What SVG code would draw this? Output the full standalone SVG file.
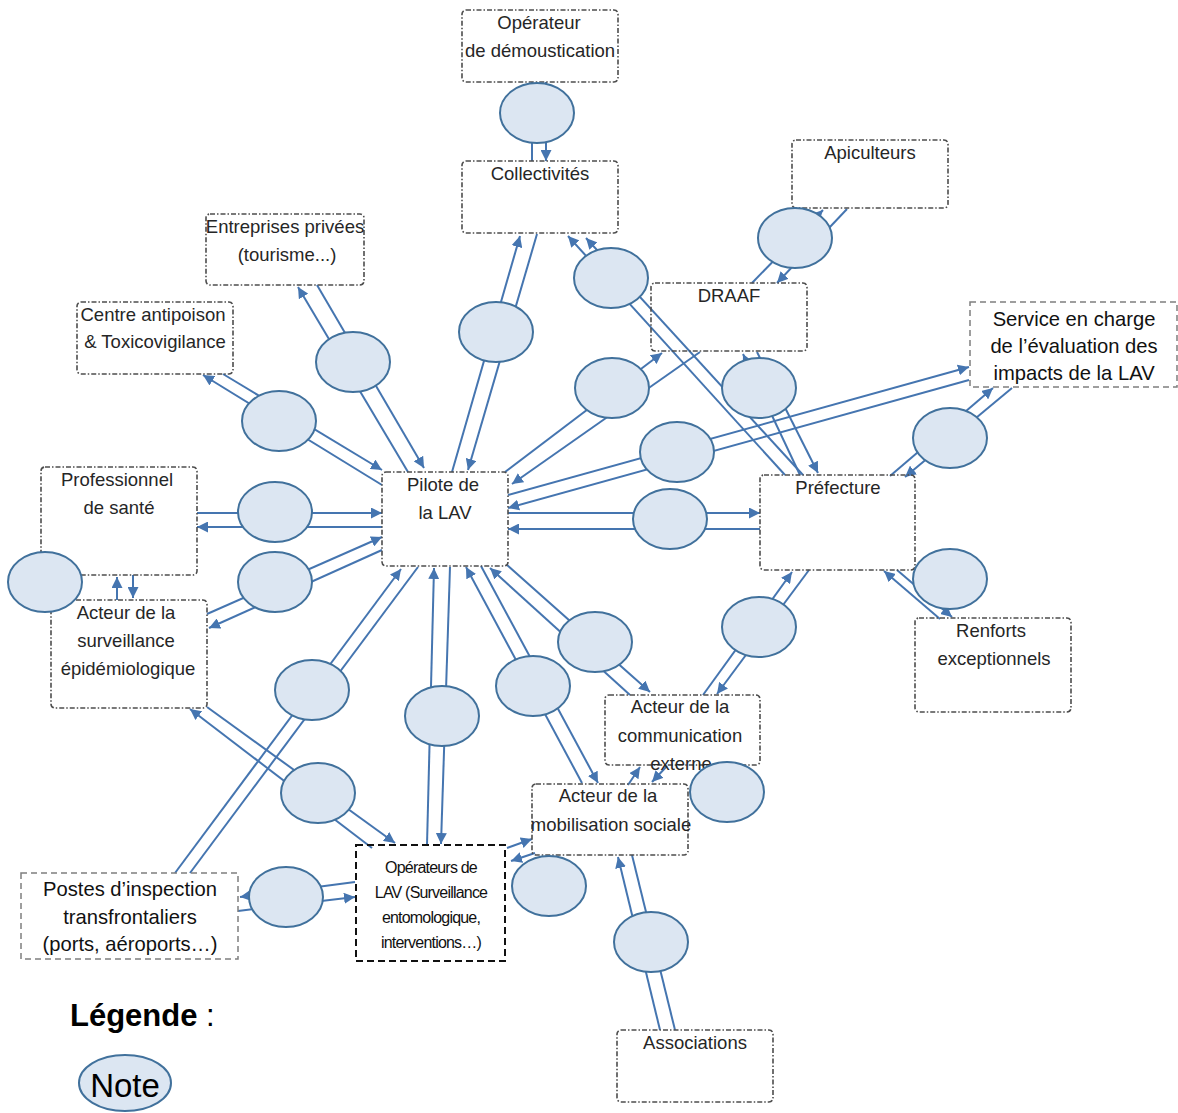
<svg xmlns="http://www.w3.org/2000/svg" width="1178" height="1113" viewBox="0 0 1178 1113">
<style>
.box{fill:none;stroke:#4d4d4d;stroke-width:1.6;stroke-dasharray:5 2 1.5 2}
.dash{fill:none;stroke:#7f7f7f;stroke-width:1.5;stroke-dasharray:6 4}
.bdash{fill:none;stroke:#111;stroke-width:2;stroke-dasharray:7 4}
.t{font-family:"Liberation Sans",Arial,sans-serif;font-size:18.5px;fill:#262626;text-anchor:middle}
.c{font-family:"Liberation Sans",Arial,sans-serif;font-size:20.2px;fill:#111;text-anchor:middle}
.n{font-family:"Liberation Sans",Arial,sans-serif;font-size:16px;letter-spacing:-0.8px;fill:#111;text-anchor:middle}
.note{fill:#dce6f2;stroke:#41719c;stroke-width:2}
#connectors line{stroke:#4575b0;stroke-width:2}
</style>
<defs>
<marker id="ah" markerUnits="userSpaceOnUse" markerWidth="11" markerHeight="11" refX="10" refY="5" orient="auto" viewBox="0 0 10 10">
<path d="M0,0 L10,5 L0,10 z" fill="#4575b0"/>
</marker>
</defs>
<rect width="1178" height="1113" fill="#fff"/>

<g id="connectors">
<line x1="532" y1="82" x2="532" y2="161"/>
<line x1="546" y1="82" x2="546" y2="161" marker-end="url(#ah)"/>
<line x1="452" y1="472" x2="520" y2="236" marker-end="url(#ah)"/>
<line x1="537" y1="234" x2="468" y2="470" marker-end="url(#ah)"/>
<line x1="408" y1="472" x2="298" y2="287" marker-end="url(#ah)"/>
<line x1="317" y1="285" x2="424" y2="468" marker-end="url(#ah)"/>
<line x1="382" y1="485" x2="203" y2="375" marker-end="url(#ah)"/>
<line x1="223" y1="374" x2="382" y2="470" marker-end="url(#ah)"/>
<line x1="197" y1="513" x2="382" y2="513" marker-end="url(#ah)"/>
<line x1="382" y1="527" x2="197" y2="527" marker-end="url(#ah)"/>
<line x1="207" y1="614" x2="382" y2="537" marker-end="url(#ah)"/>
<line x1="382" y1="550" x2="209" y2="628" marker-end="url(#ah)"/>
<line x1="508" y1="513" x2="760" y2="513" marker-end="url(#ah)"/>
<line x1="760" y1="529" x2="508" y2="529" marker-end="url(#ah)"/>
<line x1="508" y1="495" x2="969" y2="367" marker-end="url(#ah)"/>
<line x1="969" y1="380" x2="508" y2="508" marker-end="url(#ah)"/>
<line x1="505" y1="472" x2="662" y2="353" marker-end="url(#ah)"/>
<line x1="700" y1="352" x2="512" y2="484" marker-end="url(#ah)"/>
<line x1="800" y1="475" x2="743" y2="354" marker-end="url(#ah)"/>
<line x1="757" y1="352" x2="818" y2="473" marker-end="url(#ah)"/>
<line x1="785" y1="475" x2="568" y2="236" marker-end="url(#ah)"/>
<line x1="803" y1="475" x2="586" y2="238" marker-end="url(#ah)"/>
<line x1="752" y1="283" x2="823" y2="210" marker-end="url(#ah)"/>
<line x1="847" y1="209" x2="777" y2="283" marker-end="url(#ah)"/>
<line x1="890" y1="476" x2="993" y2="388" marker-end="url(#ah)"/>
<line x1="1012" y1="388" x2="905" y2="477" marker-end="url(#ah)"/>
<line x1="940" y1="619" x2="884" y2="571" marker-end="url(#ah)"/>
<line x1="897" y1="570" x2="952" y2="617" marker-end="url(#ah)"/>
<line x1="703" y1="695" x2="792" y2="572" marker-end="url(#ah)"/>
<line x1="809" y1="570" x2="717" y2="694" marker-end="url(#ah)"/>
<line x1="630" y1="695" x2="490" y2="568" marker-end="url(#ah)"/>
<line x1="507" y1="565" x2="650" y2="692" marker-end="url(#ah)"/>
<line x1="582" y1="783" x2="466" y2="567" marker-end="url(#ah)"/>
<line x1="481" y1="566" x2="598" y2="783" marker-end="url(#ah)"/>
<line x1="427" y1="845" x2="434" y2="568" marker-end="url(#ah)"/>
<line x1="450" y1="567" x2="441" y2="844" marker-end="url(#ah)"/>
<line x1="175" y1="873" x2="401" y2="569" marker-end="url(#ah)"/>
<line x1="418" y1="567" x2="190" y2="873"/>
<line x1="372" y1="848" x2="190" y2="709" marker-end="url(#ah)"/>
<line x1="207" y1="707" x2="395" y2="843" marker-end="url(#ah)"/>
<line x1="238" y1="911" x2="355" y2="897" marker-end="url(#ah)"/>
<line x1="355" y1="882" x2="240" y2="897" marker-end="url(#ah)"/>
<line x1="507" y1="848" x2="532" y2="839" marker-end="url(#ah)"/>
<line x1="535" y1="853" x2="511" y2="861" marker-end="url(#ah)"/>
<line x1="628" y1="785" x2="640" y2="767" marker-end="url(#ah)"/>
<line x1="667" y1="766" x2="652" y2="782" marker-end="url(#ah)"/>
<line x1="660" y1="1030" x2="618" y2="857" marker-end="url(#ah)"/>
<line x1="632" y1="855" x2="675" y2="1030"/>
<line x1="117" y1="600" x2="117" y2="577" marker-end="url(#ah)"/>
<line x1="133" y1="575" x2="133" y2="598" marker-end="url(#ah)"/>
</g>

<g id="n-operateur-demoustication"><rect class="box" x="462" y="10" width="156" height="72" rx="4"/><text class="t" x="539" y="29">Opérateur</text><text class="t" x="540" y="57">de démoustication</text></g>
<g id="n-collectivites"><rect class="box" x="462" y="161" width="156" height="72" rx="4"/><text class="t" x="540" y="180">Collectivités</text></g>
<g id="n-apiculteurs"><rect class="box" x="792" y="140" width="156" height="68" rx="4"/><text class="t" x="870" y="159">Apiculteurs</text></g>
<g id="n-entreprises"><rect class="box" x="206" y="214" width="158" height="71" rx="4"/><text class="t" x="285" y="233">Entreprises privées</text><text class="t" x="287" y="261">(tourisme...)</text></g>
<g id="n-centre-antipoison"><rect class="box" x="77" y="302" width="156" height="72" rx="4"/><text class="t" x="153" y="321">Centre antipoison</text><text class="t" x="155" y="348">&amp; Toxicovigilance</text></g>
<g id="n-draaf"><rect class="box" x="651" y="283" width="156" height="68" rx="4"/><text class="t" x="729" y="302">DRAAF</text></g>
<g id="n-service-evaluation"><rect class="dash" x="970" y="302" width="207" height="85"/><text class="c" x="1074" y="326">Service en charge</text><text class="c" x="1074" y="353">de l’évaluation des</text><text class="c" x="1074" y="380">impacts de la LAV</text></g>
<g id="n-pilote"><rect class="box" x="382" y="472" width="126" height="94" rx="4"/><text class="t" x="443" y="491">Pilote de</text><text class="t" x="445" y="519">la LAV</text></g>
<g id="n-professionnel"><rect class="box" x="41" y="467" width="156" height="108" rx="4"/><text class="t" x="117" y="486">Professionnel</text><text class="t" x="119" y="514">de santé</text></g>
<g id="n-prefecture"><rect class="box" x="760" y="475" width="155" height="95" rx="4"/><text class="t" x="838" y="494">Préfecture</text></g>
<g id="n-surveillance"><rect class="box" x="51" y="600" width="156" height="108" rx="4"/><text class="t" x="126" y="619">Acteur de la</text><text class="t" x="126" y="647">surveillance</text><text class="t" x="128" y="675">épidémiologique</text></g>
<g id="n-renforts"><rect class="box" x="915" y="618" width="156" height="94" rx="4"/><text class="t" x="991" y="637">Renforts</text><text class="t" x="994" y="665">exceptionnels</text></g>
<g id="n-communication"><rect class="box" x="605" y="695" width="155" height="70" rx="4"/><text class="t" x="680" y="713">Acteur de la</text><text class="t" x="680" y="742">communication</text><text class="t" x="681" y="770">externe</text></g>
<g id="n-mobilisation"><rect class="box" x="532" y="784" width="156" height="71" rx="4"/><text class="t" x="608" y="802">Acteur de la</text><text class="t" x="611" y="831">mobilisation sociale</text></g>
<g id="n-operateurs-lav"><rect class="bdash" x="356" y="845" width="149" height="116"/><text class="n" x="431" y="873">Opérateurs de</text><text class="n" x="431" y="898">LAV (Surveillance</text><text class="n" x="431" y="923">entomologique,</text><text class="n" x="431" y="948">interventions…)</text></g>
<g id="n-postes"><rect class="dash" x="21" y="873" width="217" height="86"/><text class="c" x="130" y="896">Postes d’inspection</text><text class="c" x="130" y="924">transfrontaliers</text><text class="c" x="130" y="951">(ports, aéroports…)</text></g>
<g id="n-associations"><rect class="box" x="617" y="1030" width="156" height="72" rx="4"/><text class="t" x="695" y="1049">Associations</text></g>

<g id="notes">
<ellipse class="note" cx="537" cy="113" rx="37" ry="30"/>
<ellipse class="note" cx="795" cy="238" rx="37" ry="30"/>
<ellipse class="note" cx="611" cy="278" rx="37" ry="30"/>
<ellipse class="note" cx="496" cy="332" rx="37" ry="30"/>
<ellipse class="note" cx="353" cy="362" rx="37" ry="30"/>
<ellipse class="note" cx="612" cy="388" rx="37" ry="30"/>
<ellipse class="note" cx="759" cy="388" rx="37" ry="30"/>
<ellipse class="note" cx="279" cy="421" rx="37" ry="30"/>
<ellipse class="note" cx="950" cy="438" rx="37" ry="30"/>
<ellipse class="note" cx="677" cy="452" rx="37" ry="30"/>
<ellipse class="note" cx="275" cy="512" rx="37" ry="30"/>
<ellipse class="note" cx="670" cy="519" rx="37" ry="30"/>
<ellipse class="note" cx="45" cy="582" rx="37" ry="30"/>
<ellipse class="note" cx="275" cy="582" rx="37" ry="30"/>
<ellipse class="note" cx="950" cy="579" rx="37" ry="30"/>
<ellipse class="note" cx="595" cy="642" rx="37" ry="30"/>
<ellipse class="note" cx="759" cy="627" rx="37" ry="30"/>
<ellipse class="note" cx="312" cy="690" rx="37" ry="30"/>
<ellipse class="note" cx="442" cy="716" rx="37" ry="30"/>
<ellipse class="note" cx="533" cy="686" rx="37" ry="30"/>
<ellipse class="note" cx="318" cy="793" rx="37" ry="30"/>
<ellipse class="note" cx="727" cy="792" rx="37" ry="30"/>
<ellipse class="note" cx="549" cy="886" rx="37" ry="30"/>
<ellipse class="note" cx="286" cy="897" rx="37" ry="30"/>
<ellipse class="note" cx="651" cy="942" rx="37" ry="30"/>
</g>

<g id="legend">
<text x="70" y="1026" font-family="'Liberation Sans',Arial,sans-serif" font-size="31" fill="#000"><tspan font-weight="bold">Légende</tspan> :</text>
<ellipse class="note" cx="125" cy="1083" rx="46" ry="28"/>
<text x="125" y="1097" font-family="'Liberation Sans',Arial,sans-serif" font-size="33" fill="#000" text-anchor="middle">Note</text>
</g>
</svg>
